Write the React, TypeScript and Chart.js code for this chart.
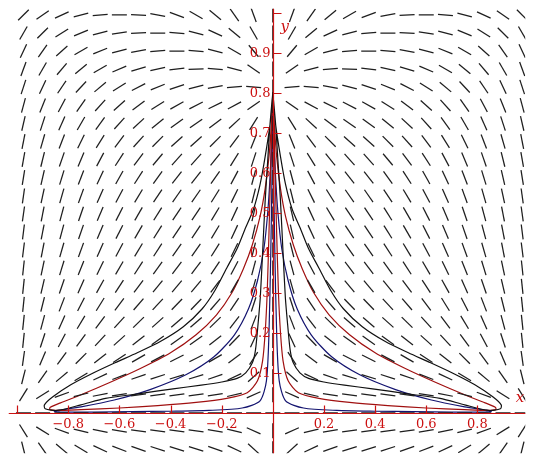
import React, { useEffect, useRef } from "react";
import { Chart, registerables } from "chart.js";

Chart.register(...registerables);

// ---- view window (data units) ----
const X_MIN = -1.0325;
const X_MAX = 0.987;
const Y_MIN = -0.101;
const Y_MAX = 1.0096;

// ---- direction field grid ----
const fieldXs = [
  -0.975, -0.9, -0.825, -0.75, -0.675, -0.6, -0.525, -0.45, -0.375, -0.3, -0.225, -0.15, -0.075,
  0,
  0.075, 0.15, 0.225, 0.3, 0.375, 0.45, 0.525, 0.6, 0.675, 0.75, 0.825, 0.9, 0.975,
];
const fieldYs = [
  0.994, 0.949, 0.904, 0.859, 0.814, 0.768, 0.723, 0.678, 0.633, 0.588, 0.542, 0.497, 0.452,
  0.407, 0.362, 0.316, 0.271, 0.226, 0.181, 0.136, 0.09, 0.045, 0, -0.045, -0.09,
];
// slope angle of each segment, degrees (rows follow fieldYs, columns follow fieldXs)
const fieldAngles = [
  [45, 35, 25, 15, 5, 0, -3, -10, -20, -30, -40, -55, -70, 90, 70, 55, 40, 30, 20, 10, 3, 0, -5, -15, -25, -35, -45],
  [60, 45, 32, 22, 15, 8, 3, 0, -5, -15, -25, -40, -60, 90, 60, 40, 25, 15, 5, 0, -3, -8, -15, -22, -32, -45, -60],
  [65, 55, 42, 30, 22, 15, 10, 5, 0, -5, -15, -30, -50, 90, 50, 30, 15, 5, 0, -5, -10, -15, -22, -30, -42, -55, -65],
  [70, 60, 50, 40, 30, 23, 17, 12, 7, 2, -5, -15, -35, 90, 35, 15, 5, -2, -7, -12, -17, -23, -30, -40, -50, -60, -70],
  [72, 65, 56, 47, 40, 32, 27, 22, 18, 14, 10, 5, -5, 90, 5, -5, -10, -14, -18, -22, -27, -32, -40, -47, -56, -65, -72],
  [75, 68, 62, 55, 48, 42, 37, 32, 29, 27, 26, 28, 35, 90, -35, -28, -26, -27, -29, -32, -37, -42, -48, -55, -62, -68, -75],
  [77, 72, 66, 60, 54, 48, 43, 39, 36, 35, 37, 43, 58, 90, -58, -43, -37, -35, -36, -39, -43, -48, -54, -60, -66, -72, -77],
  [79, 74, 69, 64, 58, 53, 48, 45, 42, 42, 45, 53, 68, 90, -68, -53, -45, -42, -42, -45, -48, -53, -58, -64, -69, -74, -79],
  [80, 76, 71, 67, 62, 57, 53, 50, 48, 48, 51, 58, 72, 90, -72, -58, -51, -48, -48, -50, -53, -57, -62, -67, -71, -76, -80],
  [81, 77, 73, 69, 65, 61, 57, 54, 52, 52, 55, 62, 75, 90, -75, -62, -55, -52, -52, -54, -57, -61, -65, -69, -73, -77, -81],
  [82, 78, 74, 70, 66, 62, 59, 56, 55, 55, 58, 64, 76, 90, -76, -64, -58, -55, -55, -56, -59, -62, -66, -70, -74, -78, -82],
  [82, 79, 75, 71, 67, 63, 60, 58, 56, 56, 59, 65, 77, 90, -77, -65, -59, -56, -56, -58, -60, -63, -67, -71, -75, -79, -82],
  [83, 79, 75, 71, 67, 63, 60, 58, 56, 56, 59, 65, 77, 90, -77, -65, -59, -56, -56, -58, -60, -63, -67, -71, -75, -79, -83],
  [83, 79, 74, 70, 66, 62, 59, 57, 55, 55, 58, 64, 76, 90, -76, -64, -58, -55, -55, -57, -59, -62, -66, -70, -74, -79, -83],
  [84, 78, 73, 68, 64, 60, 57, 54, 53, 53, 56, 62, 75, 90, -75, -62, -56, -53, -53, -54, -57, -60, -64, -68, -73, -78, -84],
  [84, 77, 71, 66, 61, 57, 53, 51, 50, 50, 53, 60, 74, 90, -74, -60, -53, -50, -50, -51, -53, -57, -61, -66, -71, -77, -84],
  [84, 76, 69, 63, 58, 53, 49, 47, 46, 46, 49, 56, 72, 90, -72, -56, -49, -46, -46, -47, -49, -53, -58, -63, -69, -76, -84],
  [84, 75, 66, 59, 53, 48, 44, 42, 41, 41, 44, 52, 69, 90, -69, -52, -44, -41, -41, -42, -44, -48, -53, -59, -66, -75, -84],
  [84, 72, 62, 54, 47, 42, 38, 36, 35, 35, 38, 46, 65, 90, -65, -46, -38, -35, -35, -36, -38, -42, -47, -54, -62, -72, -84],
  [82, 67, 54, 45, 38, 33, 30, 28, 27, 27, 30, 37, 57, 90, -57, -37, -30, -27, -27, -28, -30, -33, -38, -45, -54, -67, -82],
  [76, 55, 40, 31, 25, 21, 19, 18, 17, 17, 19, 25, 42, 90, -42, -25, -19, -17, -17, -18, -19, -21, -25, -31, -40, -55, -76],
  [58, 32, 20, 14, 11, 9, 8, 8, 8, 8, 9, 13, 24, 90, -24, -13, -9, -8, -8, -8, -8, -9, -11, -14, -20, -32, -58],
  [0, 0, 0, 0, 0, 0, 0, 0, 0, 0, 0, 0, 0, 0, 0, 0, 0, 0, 0, 0, 0, 0, 0, 0, 0, 0, 0],
  [-58, -32, -20, -14, -11, -9, -8, -8, -8, -8, -9, -13, -24, 90, 24, 13, 9, 8, 8, 8, 8, 9, 11, 14, 20, 32, 58],
  [-76, -55, -40, -31, -25, -21, -19, -18, -17, -17, -19, -25, -42, 90, 42, 25, 19, 17, 17, 18, 19, 21, 25, 31, 40, 55, 76],
];

// ---- solution curves (left and right loops) ----
const blackLeftX = [0, -0.011, -0.03, -0.05, -0.075, -0.11, -0.14, -0.18, -0.227, -0.276, -0.35, -0.44, -0.53, -0.617, -0.71, -0.79, -0.86, -0.893, -0.89, -0.843, -0.75, -0.654, -0.52, -0.39, -0.28, -0.2, -0.14, -0.106, -0.08, -0.068, -0.058, -0.049, -0.04, -0.03, -0.02, -0.011, 0];
const blackLeftY = [0.8, 0.72, 0.64, 0.57, 0.51, 0.457, 0.41, 0.362, 0.305, 0.26, 0.215, 0.178, 0.15, 0.125, 0.097, 0.07, 0.04, 0.02, 0.01, 0.006, 0.02, 0.036, 0.048, 0.06, 0.069, 0.077, 0.086, 0.1, 0.125, 0.156, 0.22, 0.288, 0.4, 0.529, 0.63, 0.721, 0.8];
const blackRightX = [0, 0.011, 0.03, 0.05, 0.075, 0.11, 0.14, 0.18, 0.227, 0.276, 0.35, 0.44, 0.53, 0.617, 0.71, 0.79, 0.86, 0.893, 0.89, 0.843, 0.75, 0.654, 0.52, 0.39, 0.28, 0.2, 0.14, 0.106, 0.08, 0.068, 0.058, 0.049, 0.04, 0.03, 0.02, 0.011, 0];
const blackRightY = [0.8, 0.72, 0.64, 0.57, 0.51, 0.457, 0.41, 0.362, 0.305, 0.26, 0.215, 0.178, 0.15, 0.125, 0.097, 0.07, 0.04, 0.02, 0.01, 0.006, 0.02, 0.036, 0.048, 0.06, 0.069, 0.077, 0.086, 0.1, 0.125, 0.156, 0.22, 0.288, 0.4, 0.529, 0.63, 0.721, 0.8];

const redLeftX = [0, -0.006, -0.015, -0.03, -0.05, -0.08, -0.115, -0.16, -0.22, -0.3, -0.4, -0.52, -0.64, -0.75, -0.83, -0.87, -0.872, -0.84, -0.75, -0.6, -0.45, -0.3, -0.18, -0.1, -0.06, -0.04, -0.03, -0.022, -0.015, -0.008, 0];
const redLeftY = [0.8, 0.72, 0.64, 0.56, 0.49, 0.42, 0.36, 0.3, 0.245, 0.195, 0.15, 0.11, 0.075, 0.045, 0.025, 0.014, 0.008, 0.006, 0.008, 0.012, 0.018, 0.026, 0.036, 0.05, 0.08, 0.13, 0.2, 0.3, 0.45, 0.62, 0.8];
const redRightX = [0, 0.006, 0.015, 0.03, 0.05, 0.08, 0.115, 0.16, 0.22, 0.3, 0.4, 0.52, 0.64, 0.75, 0.83, 0.87, 0.872, 0.84, 0.75, 0.6, 0.45, 0.3, 0.18, 0.1, 0.06, 0.04, 0.03, 0.022, 0.015, 0.008, 0];
const redRightY = [0.8, 0.72, 0.64, 0.56, 0.49, 0.42, 0.36, 0.3, 0.245, 0.195, 0.15, 0.11, 0.075, 0.045, 0.025, 0.014, 0.008, 0.006, 0.008, 0.012, 0.018, 0.026, 0.036, 0.05, 0.08, 0.13, 0.2, 0.3, 0.45, 0.62, 0.8];

const blueLeftX = [0, -0.004, -0.01, -0.02, -0.035, -0.06, -0.095, -0.15, -0.23, -0.34, -0.48, -0.62, -0.75, -0.83, -0.855, -0.83, -0.7, -0.55, -0.4, -0.25, -0.12, -0.05, -0.025, -0.015, -0.008, -0.003, 0];
const blueLeftY = [0.8, 0.7, 0.6, 0.5, 0.41, 0.33, 0.26, 0.195, 0.14, 0.095, 0.058, 0.032, 0.015, 0.007, 0.004, 0.002, 0.002, 0.003, 0.004, 0.006, 0.012, 0.03, 0.08, 0.2, 0.4, 0.6, 0.8];
const blueRightX = [0, 0.004, 0.01, 0.02, 0.035, 0.06, 0.095, 0.15, 0.23, 0.34, 0.48, 0.62, 0.75, 0.83, 0.855, 0.83, 0.7, 0.55, 0.4, 0.25, 0.12, 0.05, 0.025, 0.015, 0.008, 0.003, 0];
const blueRightY = [0.8, 0.7, 0.6, 0.5, 0.41, 0.33, 0.26, 0.195, 0.14, 0.095, 0.058, 0.032, 0.015, 0.007, 0.004, 0.002, 0.002, 0.003, 0.004, 0.006, 0.012, 0.03, 0.08, 0.2, 0.4, 0.6, 0.8];

// ---- axes ----
const xTickValues = [-1, -0.8, -0.6, -0.4, -0.2, 0.2, 0.4, 0.6, 0.8];
const xTickLabels = ["", "\u22120.8", "\u22120.6", "\u22120.4", "\u22120.2", "0.2", "0.4", "0.6", "0.8"];
const yTickValues = [0.1, 0.2, 0.3, 0.4, 0.5, 0.6, 0.7, 0.8, 0.9, 1.0];
const yTickLabels = ["0.1", "0.2", "0.3", "0.4", "0.5", "0.6", "0.7", "0.8", "0.9", ""];
const xAxisTitle = "x";
const yAxisTitle = "y";

const AXIS_COLOR = "#cc1111";
const FIELD_COLOR = "#1e1e1e";

const zip = (xs: number[], ys: number[]) => xs.map((x, i) => ({ x, y: ys[i] }));

const axesPlugin = {
  id: "centerAxes",
  afterDatasetsDraw(chart: any) {
    const { ctx, chartArea } = chart;
    const xs = chart.scales.x;
    const ys = chart.scales.y;
    const x0 = Math.round(xs.getPixelForValue(0)) + 0.5;
    const y0 = Math.round(ys.getPixelForValue(0)) + 0.5;
    ctx.save();
    ctx.strokeStyle = AXIS_COLOR;
    ctx.lineWidth = 1.2;
    ctx.beginPath();
    ctx.moveTo(chartArea.left, y0);
    ctx.lineTo(chartArea.right, y0);
    ctx.moveTo(x0, chartArea.top);
    ctx.lineTo(x0, chartArea.bottom);
    xTickValues.forEach((v) => {
      const px = Math.round(xs.getPixelForValue(v)) + 0.5;
      ctx.moveTo(px, y0);
      ctx.lineTo(px, y0 - 8);
    });
    yTickValues.forEach((v) => {
      const py = Math.round(ys.getPixelForValue(v)) + 0.5;
      ctx.moveTo(x0, py);
      ctx.lineTo(x0 + 8, py);
    });
    ctx.stroke();

    ctx.fillStyle = AXIS_COLOR;
    ctx.font = '13px "DejaVu Serif"';
    ctx.textAlign = "center";
    ctx.textBaseline = "top";
    xTickValues.forEach((v, i) => {
      if (!xTickLabels[i]) return;
      ctx.fillText(xTickLabels[i], xs.getPixelForValue(v), y0 + 5);
    });
    ctx.textAlign = "right";
    ctx.textBaseline = "middle";
    yTickValues.forEach((v, i) => {
      if (!yTickLabels[i]) return;
      ctx.fillText(yTickLabels[i], x0 - 3, ys.getPixelForValue(v) + 1);
    });
    ctx.font = 'italic 15px "DejaVu Serif"';
    ctx.textAlign = "right";
    ctx.textBaseline = "alphabetic";
    ctx.fillText(xAxisTitle, chartArea.right - 1, y0 - 12);
    ctx.textAlign = "left";
    ctx.fillText(yAxisTitle, x0 + 7, chartArea.top + 22);
    ctx.restore();
  },
};

export default function App() {
  const canvasRef = useRef<HTMLCanvasElement | null>(null);

  useEffect(() => {
    const canvas = canvasRef.current;
    if (!canvas) return;

    const fieldPoints: { x: number; y: number }[] = [];
    const fieldRot: number[] = [];
    fieldYs.forEach((y, r) => {
      fieldXs.forEach((x, c) => {
        fieldPoints.push({ x, y });
        fieldRot.push(-fieldAngles[r][c]);
      });
    });

    const curve = (data: { x: number; y: number }[], color: string) => ({
      type: "scatter" as const,
      data,
      showLine: true,
      borderColor: color,
      borderWidth: 1.2,
      pointRadius: 0,
      tension: 0.25,
      fill: false,
    });

    const chart = new Chart(canvas, {
      type: "scatter",
      data: {
        datasets: [
          {
            data: fieldPoints,
            pointStyle: "line",
            pointRadius: 7.5,
            pointHoverRadius: 7.5,
            pointBorderWidth: 1.25,
            pointBorderColor: FIELD_COLOR,
            pointBackgroundColor: FIELD_COLOR,
            pointRotation: (ctx: any) => fieldRot[ctx.dataIndex] ?? 0,
            showLine: false,
          } as any,
          curve(zip(blackLeftX, blackLeftY), "#111111"),
          curve(zip(blackRightX, blackRightY), "#111111"),
          curve(zip(redLeftX, redLeftY), "#a01010"),
          curve(zip(redRightX, redRightY), "#a01010"),
          curve(zip(blueLeftX, blueLeftY), "#141470"),
          curve(zip(blueRightX, blueRightY), "#141470"),
        ],
      },
      options: {
        responsive: false,
        animation: false,
        events: [],
        layout: { padding: 0 },
        scales: {
          x: { type: "linear", min: X_MIN, max: X_MAX, display: false },
          y: { type: "linear", min: Y_MIN, max: Y_MAX, display: false },
        },
        plugins: { legend: { display: false }, tooltip: { enabled: false } },
      },
      plugins: [axesPlugin],
    });
    return () => chart.destroy();
  }, []);

  return (
    <div style={{ position: "absolute", left: 0, top: 0, width: 534, height: 462, background: "#fff" }}>
      <canvas ref={canvasRef} width={534} height={462} style={{ display: "block" }} />
    </div>
  );
}
